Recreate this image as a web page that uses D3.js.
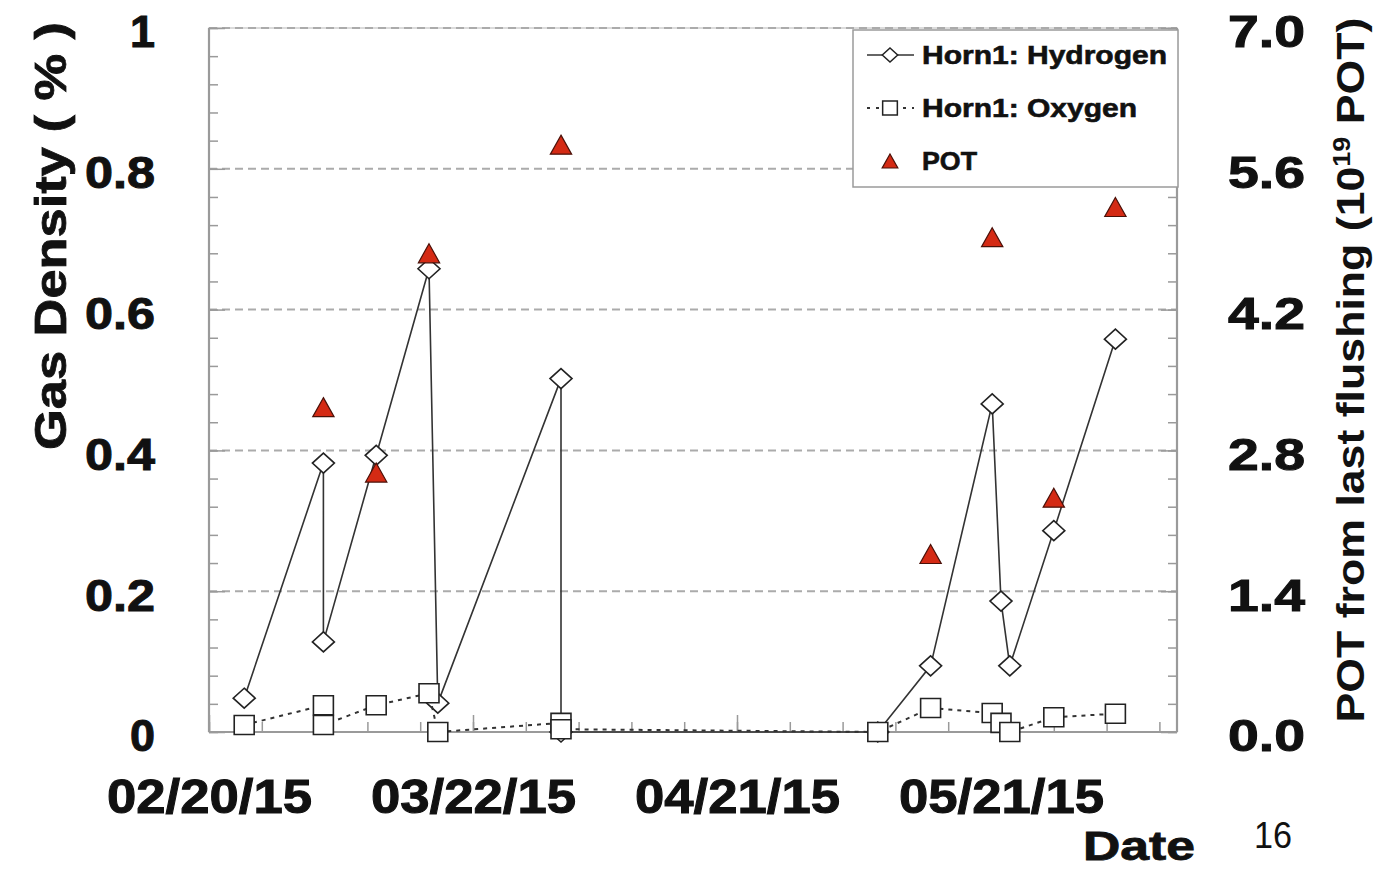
<!DOCTYPE html>
<html><head><meta charset="utf-8">
<script src="https://cdn.jsdelivr.net/npm/d3@7"></script>
<style>
body{margin:0;background:#fff}
svg{display:block}
text{font-family:"Liberation Sans",Arial,Helvetica,sans-serif;fill:#111}
</style>
</head><body>
<svg id="c" width="1375" height="870"></svg>
<script>
// ---------------- data ----------------
const dates = ["2015-02-24","2015-03-05","2015-03-05","2015-03-11","2015-03-17","2015-03-18","2015-04-01","2015-04-01","2015-05-07","2015-05-13","2015-05-20","2015-05-21","2015-05-22","2015-05-27","2015-06-03"];
const hydrogen = [0.048,0.382,0.128,0.393,0.658,0.041,0.502,0.000,0.000,0.094,0.466,0.186,0.094,0.286,0.558];
const oxygen   = [0.010,0.038,0.010,0.038,0.055,0.000,0.013,0.004,0.000,0.034,0.027,0.013,0.000,0.021,0.026];
const potDates  = ["2015-03-05","2015-03-11","2015-03-17","2015-04-01","2015-05-13","2015-05-20","2015-05-27","2015-06-03"];
const potValues = [3.23,2.58,4.76,5.84,1.77,4.92,2.33,5.22];
const xDomain = ["2015-02-20","2015-06-10"];
const xTickDates  = ["2015-02-20","2015-03-22","2015-04-21","2015-05-21"];
const xTickLabels = ["02/20/15","03/22/15","04/21/15","05/21/15"];
const yLeftTicks  = [0,0.2,0.4,0.6,0.8,1];
const yLeftTickLabels = ["0","0.2","0.4","0.6","0.8","1"];
const yRightTicks = [0,1.4,2.8,4.2,5.6,7.0];
const yRightTickLabels = ["0.0","1.4","2.8","4.2","5.6","7.0"];
const seriesNames = ["Horn1: Hydrogen","Horn1: Oxygen","POT"];

// ---------------- setup ----------------
const svg = d3.select("#c");
const parse = d3.utcParse("%Y-%m-%d");
const M = {left:209, right:1177, top:28, bottom:732};
const x  = d3.scaleUtc().domain(xDomain.map(parse)).range([M.left, M.right]);
const yL = d3.scaleLinear().domain([0,1]).range([M.bottom, M.top]);
const yR = d3.scaleLinear().domain([0,7]).range([M.bottom, M.top]);
const axisColor = "#9a9a9a", gridColor = "#ababab";

function fitText(sel, len){ sel.attr("textLength", len).attr("lengthAdjust","spacingAndGlyphs"); return sel; }
function heavy(sel, w){ sel.attr("stroke","#111").attr("stroke-width", w||0.9).attr("paint-order","stroke"); return sel; }

// frame
svg.append("rect").attr("x",M.left).attr("y",M.top)
  .attr("width",M.right-M.left).attr("height",M.bottom-M.top)
  .attr("fill","none").attr("stroke","#cfcfcf").attr("stroke-width",1.5);

// grid
svg.append("g").selectAll("line").data(yLeftTicks.filter(d=>d>0)).join("line")
  .attr("x1",M.left).attr("x2",M.right)
  .attr("y1",d=>yL(d)).attr("y2",d=>yL(d))
  .attr("stroke",gridColor).attr("stroke-width",2).attr("stroke-dasharray","8,5");

// ---------------- axes ----------------
const start = parse(xDomain[0]);
const nDays = d3.utcDay.count(start, parse(xDomain[1]));
const xMinor = d3.range(0, nDays+1, 6).map(d=>d3.utcDay.offset(start,d));
const yMinor = d3.range(0, 1.0001, 0.04);

function styleAxis(g){ g.select(".domain").remove(); g.selectAll("line").attr("stroke",axisColor).attr("stroke-width",1.5); }

svg.append("g").attr("transform",`translate(0,${M.bottom})`)
  .call(d3.axisBottom(x).tickValues(xMinor).tickSize(-10).tickFormat(""))
  .call(styleAxis);
const gx = svg.append("g").attr("transform",`translate(0,${M.bottom})`)
  .call(d3.axisBottom(x).tickValues(xTickDates.map(parse)).tickSize(-17).tickPadding(47)
    .tickFormat((d,i)=>xTickLabels[i]))
  .call(styleAxis);
gx.selectAll("text").attr("font-size",48).attr("font-weight","bold")
  .attr("font-family","Liberation Sans, Arial, sans-serif").attr("fill","#111")
  .call(s=>fitText(s,205)).call(s=>heavy(s,1));

svg.append("g").attr("transform",`translate(${M.left},0)`)
  .call(d3.axisLeft(yL).tickValues(yMinor).tickSize(-9).tickFormat(""))
  .call(styleAxis);
const gyl = svg.append("g").attr("transform",`translate(${M.left},0)`)
  .call(d3.axisLeft(yL).tickValues(yLeftTicks).tickSize(-16).tickPadding(54)
    .tickFormat((d,i)=>yLeftTickLabels[i]))
  .call(styleAxis);
gyl.selectAll("text").attr("font-size",45).attr("font-weight","bold").attr("dy","0.42em")
  .attr("font-family","Liberation Sans, Arial, sans-serif").attr("fill","#111")
  .call(s=>heavy(s,1))
  .each(function(d,i){ d3.select(this).call(s=>fitText(s, yLeftTickLabels[i].length===1?25:70)); });

svg.append("g").attr("transform",`translate(${M.right},0)`)
  .call(d3.axisRight(yR).tickValues(yMinor.map(v=>v*7)).tickSize(-9).tickFormat(""))
  .call(styleAxis);
const gyr = svg.append("g").attr("transform",`translate(${M.right},0)`)
  .call(d3.axisRight(yR).tickValues(yRightTicks).tickSize(-16).tickPadding(51)
    .tickFormat((d,i)=>yRightTickLabels[i]))
  .call(styleAxis);
gyr.selectAll("text").attr("font-size",45).attr("font-weight","bold").attr("dy","0.42em")
  .attr("font-family","Liberation Sans, Arial, sans-serif").attr("fill","#111")
  .call(s=>fitText(s,77)).call(s=>heavy(s,1));

// axis lines
svg.append("g").selectAll("line").data([
  [M.left,M.top,M.left,M.bottom],[M.left,M.bottom,M.right,M.bottom],[M.right,M.top,M.right,M.bottom]
]).join("line").attr("x1",d=>d[0]).attr("y1",d=>d[1]).attr("x2",d=>d[2]).attr("y2",d=>d[3])
  .attr("stroke",axisColor).attr("stroke-width",2.2);

// ---------------- marker shapes ----------------
const diamondType = {draw(ctx,s){const w=s/2*1.1,h=s/2;ctx.moveTo(0,-h);ctx.lineTo(w,0);ctx.lineTo(0,h);ctx.lineTo(-w,0);ctx.closePath();}};
const squareType  = {draw(ctx,s){const w=s/2*1.05,h=s/2;ctx.rect(-w,-h,2*w,2*h);}};
const triType     = {draw(ctx,s){const w=s/2*1.12,h=s/2;ctx.moveTo(0,-h);ctx.lineTo(w,h);ctx.lineTo(-w,h);ctx.closePath();}};

const idx = d3.range(dates.length);

// hydrogen
svg.append("path").datum(idx)
  .attr("d", d3.line().x(i=>x(parse(dates[i]))).y(i=>yL(hydrogen[i])))
  .attr("fill","none").attr("stroke","#333").attr("stroke-width",1.6);
svg.append("g").selectAll("path").data(idx).join("path")
  .attr("transform",i=>`translate(${x(parse(dates[i]))},${yL(hydrogen[i])})`)
  .attr("d", d3.symbol().type(diamondType).size(20)())
  .attr("fill","#fff").attr("stroke","#222").attr("stroke-width",1.6);

// oxygen
svg.append("path").datum(idx)
  .attr("d", d3.line().x(i=>x(parse(dates[i]))).y(i=>yL(oxygen[i])))
  .attr("fill","none").attr("stroke","#333").attr("stroke-width",2).attr("stroke-dasharray","4,5");
svg.append("g").selectAll("path").data(idx).join("path")
  .attr("transform",i=>`translate(${x(parse(dates[i]))},${yL(oxygen[i])})`)
  .attr("d", d3.symbol().type(squareType).size(19)())
  .attr("fill","#fff").attr("stroke","#222").attr("stroke-width",1.6);

// POT
svg.append("g").selectAll("path").data(d3.range(potDates.length)).join("path")
  .attr("transform",i=>`translate(${x(parse(potDates[i]))},${yR(potValues[i])})`)
  .attr("d", d3.symbol().type(triType).size(19)())
  .attr("fill","#d42a14").attr("stroke","#4a1008").attr("stroke-width",1.2);

// ---------------- legend ----------------
const lg = svg.append("g");
lg.append("rect").attr("x",853).attr("y",30).attr("width",325).attr("height",157)
  .attr("fill","#fff").attr("stroke","#9a9a9a").attr("stroke-width",1.5);
const legendY = [55,108,161];
lg.append("line").attr("x1",867).attr("x2",914).attr("y1",legendY[0]).attr("y2",legendY[0]).attr("stroke","#333").attr("stroke-width",1.6);
lg.append("path").attr("transform",`translate(890,${legendY[0]})`).attr("d",d3.symbol().type(diamondType).size(14)())
  .attr("fill","#fff").attr("stroke","#222").attr("stroke-width",1.5);
lg.append("line").attr("x1",867).attr("x2",914).attr("y1",legendY[1]).attr("y2",legendY[1]).attr("stroke","#333").attr("stroke-width",2).attr("stroke-dasharray","3,6");
lg.append("path").attr("transform",`translate(890,${legendY[1]})`).attr("d",d3.symbol().type(squareType).size(14)())
  .attr("fill","#fff").attr("stroke","#222").attr("stroke-width",1.5);
lg.append("path").attr("transform",`translate(890,${legendY[2]})`).attr("d",d3.symbol().type(triType).size(14)())
  .attr("fill","#d42a14").attr("stroke","#4a1008").attr("stroke-width",1.2);
const legendLens = [245,215,55];
lg.selectAll("text.lt").data(seriesNames).join("text").attr("class","lt")
  .attr("x",922).attr("y",(d,i)=>legendY[i]+9).attr("font-size",25).attr("font-weight","bold")
  .text(d=>d).each(function(d,i){ fitText(d3.select(this), legendLens[i]); heavy(d3.select(this),0.6); });

// ---------------- titles ----------------
heavy(fitText(svg.append("text").attr("transform","translate(66,236) rotate(-90)")
  .attr("text-anchor","middle").attr("font-size",44).attr("font-weight","bold")
  .text("Gas Density ( % )"), 428), 0.8);

const rt = svg.append("text").attr("transform","translate(1364,370) rotate(-90)")
  .attr("text-anchor","middle").attr("font-size",38).attr("font-weight","bold");
rt.append("tspan").text("POT from last flushing (10");
rt.append("tspan").attr("font-size",23).attr("dy",-14).text("19");
rt.append("tspan").attr("dy",14).text(" POT)");
fitText(rt, 705);

heavy(fitText(svg.append("text").attr("x",1083).attr("y",860).attr("font-size",40).attr("font-weight","bold").text("Date"), 112), 0.8);
fitText(svg.append("text").attr("x",1254).attr("y",848).attr("font-size",36).attr("font-family","Liberation Sans, Arial, sans-serif").text("16"), 38);
</script>
</body></html>
